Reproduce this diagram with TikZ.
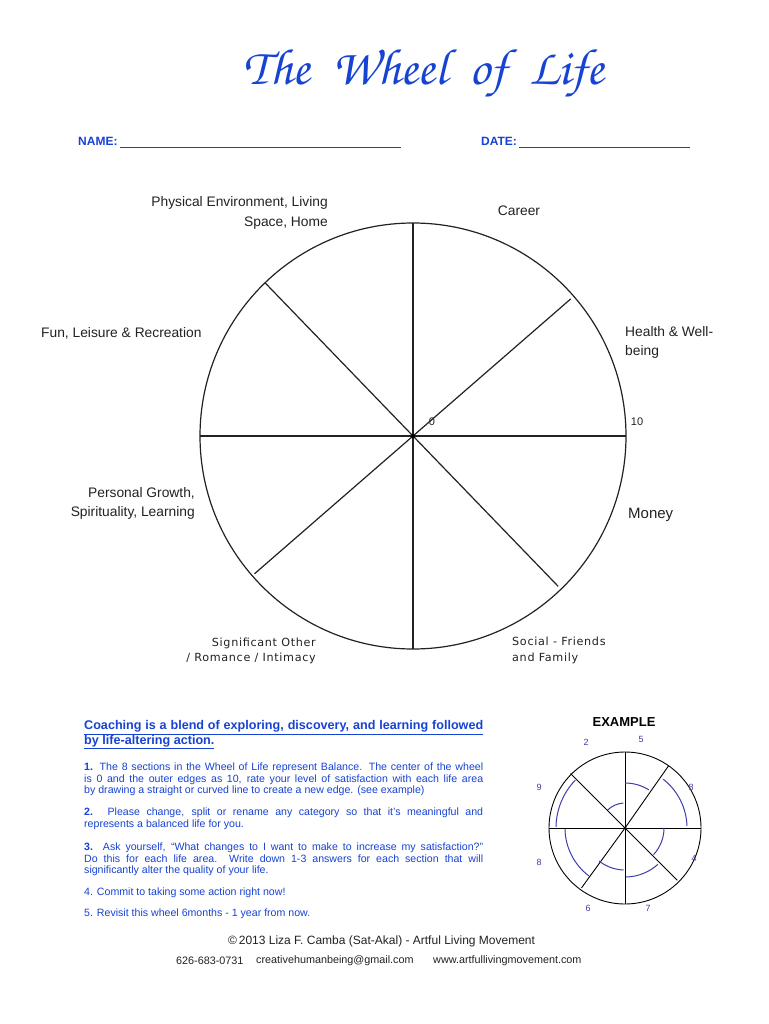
\documentclass[tikz,border=0pt]{standalone}
\usepackage[T1,TU]{fontenc}
\usepackage{fontspec}
\setmainfont{Liberation Sans}
\newfontfamily\verdanalike[LetterSpace=6]{DejaVu Sans}
\usepackage{xcolor}
\usetikzlibrary{positioning, calc}

\definecolor{wolblue}{RGB}{23,67,211}
\definecolor{exblue}{RGB}{62,62,170}
\definecolor{inkgray}{RGB}{34,34,34}
\newcommand{\chanc}{\fontencoding{T1}\fontfamily{pzc}\fontseries{m}\fontshape{it}\selectfont}

\begin{document}
\begin{tikzpicture}[x=1pt, y=-1pt,
  rim/.style   = {draw=inkgray, line width=1.2pt},
  spoke/.style = {draw=inkgray, line width=1.2pt},
  area/.style  = {font=\fontsize{13.8}{19.2}\selectfont, text=inkgray,
                  inner sep=0pt},
  areav/.style = {font=\verdanalike\fontsize{11.2}{15.5}\selectfont,
                  text=inkgray, inner sep=0pt},
  hdr/.style   = {font=\bfseries\fontsize{12}{14}\selectfont, text=wolblue,
                  inner sep=0pt},
  blank/.style = {draw=wolblue, line width=0.9pt},
  body/.style  = {font=\fontsize{10.6}{11.3}\selectfont, text=wolblue,
                  inner sep=0pt, text width=399pt, align=justify,
                  anchor=north west},
  exrim/.style = {draw=black, line width=0.9pt},
  exarc/.style = {draw=exblue, line width=1pt},
  exnum/.style = {font=\fontsize{9}{10}\selectfont, text=exblue,
                  inner sep=0pt},
  foot/.style  = {font=\fontsize{10.8}{12}\selectfont, text=inkgray,
                  inner sep=0pt},
]

\fill[white] (0,0) rectangle (768,1024);
\useasboundingbox (0,0) rectangle (768,1024);

%% Title and name / date
\node[font=\chanc\fontsize{51}{55}\selectfont, text=wolblue, anchor=base]
  (title) at (424,85) {The\ \ Wheel\ \ of\ \ Life};

\node[hdr, anchor=base west] (name) at (78,146) {NAME:};
\coordinate (nameend) at (401,147);
\draw[blank] ([xshift=2pt,yshift=-1pt]name.base east) -- (nameend);

\node[hdr, anchor=base west] (date) at (481,146) {DATE:};
\coordinate (dateend) at (690,147);
\draw[blank] ([xshift=2pt,yshift=-1pt]date.base east) -- (dateend);

%% Wheel
\coordinate (hub) at (413,436);
\draw[rim] (hub) circle[radius=213pt];
\foreach \ang/\len [count=\i] in {0/213, 41/209, 90/213, 134/213,
                                  180/213, 221/210, 270/213, 314/209} {
  \coordinate (sp\i) at ($(hub)+(\ang:\len pt)$);
  \draw[spoke] (hub) -- (sp\i);
}
\fill[black] (hub) circle[radius=2pt];

\node[font=\fontsize{11}{12}\selectfont, text=inkgray] (zero) at (432,422) {0};
\node[font=\fontsize{11}{12}\selectfont, text=inkgray] (ten)  at (637,422) {10};

%% Life areas
\node[area, align=right, anchor=east] (physenv) at (328,213)
  {Physical Environment, Living\\Space, Home};
\node[area] (career) at (519,211) {Career};
\node[area, align=left, anchor=west] (health) at (625,342.5)
  {Health \& Well-\\being};
\node[area, anchor=west] (fun) at (41,333) {Fun, Leisure \& Recreation};
\node[area, align=right, anchor=east] (growth) at (195,503.5)
  {Personal Growth,\\Spirituality, Learning};
\node[area, font=\fontsize{15}{18}\selectfont, anchor=west] (money)
  at (628,515) {Money};
\node[areav, align=right, anchor=east] (romance) at (316,651)
  {Significant Other\\/ Romance / Intimacy};
\node[areav, align=left, anchor=west] (social) at (512,650.5)
  {Social - Friends\\and Family};

%% Instructions
\node[font=\bfseries\fontsize{12.6}{13}\selectfont, text=wolblue,
      inner sep=0pt, align=left, anchor=north west] (coach) at (84,720.3)
  {\underline{\makebox[399pt][s]{Coaching is a blend of exploring, discovery, and learning followed}}\\
   \underline{by life-altering action.}};

\node[body] (step1) at (84,763)
  {\textbf{1.} The 8 sections in the Wheel of Life represent Balance. The center of the wheel\linebreak
   is 0 and the outer edges as 10, rate your level of satisfaction with each life area\linebreak
   by drawing a straight or curved line to create a new edge. (see example)};
\node[body] (step2) at (84,808)
  {\textbf{2.} Please change, split or rename any category so that it’s meaningful and\linebreak
   represents a balanced life for you.};
\node[body] (step3) at (84,843)
  {\textbf{3.} Ask yourself, “What changes to I want to make to increase my satisfaction?”\linebreak
   Do this for each life area.\ \ Write down 1-3 answers for each section that will\linebreak
   significantly alter the quality of your life.};
\node[body] (step4) at (84,888) {4. Commit to taking some action right now!};
\node[body] (step5) at (84,909) {5. Revisit this wheel 6months - 1 year from now.};

%% Example wheel
\node[font=\bfseries\fontsize{13}{15}\selectfont] (extitle) at (624,722) {EXAMPLE};
\coordinate (exhub) at (625,828);
\draw[exrim] (exhub) circle[radius=76pt];
\foreach \ang/\len [count=\i] in {0/76, 55/76, 90/76, 135/77,
                                  180/76, 234/74, 270/76, 315/74} {
  \coordinate (ex\i) at ($(exhub)+(\ang:\len pt)$);
  \draw[exrim] (exhub) -- (ex\i);
}
\fill[black] (exhub) circle[radius=1.5pt];

\begin{scope}[shift={(exhub)}, x=1pt, y=1pt]
  \foreach \sa/\ea/\rr in {90/58/45, 52/2/62, 0/-43/39, -48/-89/49,
                           232/268/42, 233/181/60, 179/136/69, 134/94/25} {
    \draw[exarc] (\sa:\rr) arc[start angle=\sa, end angle=\ea, radius=\rr];
  }
\end{scope}

\node[exnum] (n2)  at (586,742)   {2};
\node[exnum] (n5)  at (641,739)   {5};
\node[exnum] (n9)  at (539,787)   {9};
\node[exnum] (n8a) at (691,787)   {8};
\node[exnum] (n4)  at (694,858)   {4};
\node[exnum] (n8b) at (539,862)   {8};
\node[exnum] (n6)  at (588,908)   {6};
\node[exnum] (n7)  at (648,908)   {7};

%% Footer
\node[foot, font=\fontsize{12}{14}\selectfont] (copy) at (381.5,941)
  {©\,2013 Liza F. Camba (Sat-Akal) - Artful Living Movement};
\node[foot, anchor=west] (phone) at (176,961) {626-683-0731};
\node[foot, anchor=west] (mail)  at (256,961) {creativehumanbeing@gmail.com};
\node[foot, anchor=west] (web)   at (433,961) {www.artfullivingmovement.com};

\end{tikzpicture}
\end{document}
